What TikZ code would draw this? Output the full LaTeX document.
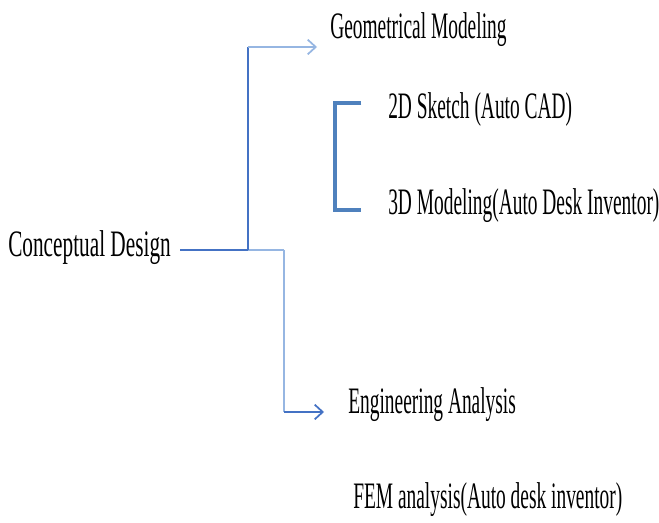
\documentclass[tikz,border=0pt]{standalone}
\usepackage{fontspec}
\setmainfont[FakeStretch=0.52]{Liberation Serif}
\newfontfamily\wideserif[FakeStretch=0.57]{Liberation Serif}
\usetikzlibrary{arrows.meta, positioning}
\definecolor{linkdark}{RGB}{68,114,196}
\definecolor{linklight}{RGB}{150,182,226}
\definecolor{bracketblue}{RGB}{79,129,189}

\begin{document}
\begin{tikzpicture}[x=0.75pt, y=-0.75pt, font=\fontsize{28}{30}\selectfont,
    label/.style={anchor=base west, inner sep=0pt},
    link/.style={line width=1.5pt},
    tip/.style={-{Straight Barb[length=6pt, width=11pt, line width=1.3pt]}}]
\useasboundingbox (0,0) rectangle (659,523);
% texts
\node[label, font=\wideserif\fontsize{28}{30}\selectfont] (concept) at (8,257) {Conceptual Design};
\node[label] (geom) at (330,39) {Geometrical Modeling};
\node[label] (sketch) at (388,119) {2D Sketch (Auto CAD)};
\node[label] (model) at (388,215) {3D Modeling(Auto Desk Inventor)};
\node[label] (engin) at (348,413) {Engineering Analysis};
\node[label] (fem) at (353,508) {FEM analysis(Auto desk inventor)};
% junctions
\coordinate (split) at (248,250);
\coordinate (drop) at (284,250);
\coordinate (geomtip) at (317,47);
\coordinate (engintip) at (324,412);
% connectors
\draw[link, linkdark] (concept.east |- split) ++(9,0) -- (split);
\draw[link, linklight] (split) -- (drop);
\draw[link, linkdark] (split) -- (split |- geomtip);
\draw[link, linklight, tip] (split |- geomtip) -- (geomtip);
\draw[link, linklight] (drop) -- (drop |- engintip);
\draw[link, linkdark, tip] (drop |- engintip) -- (engintip);
% bracket
\draw[bracketblue, line width=2.4pt] ([xshift=-20]sketch.west |- 0,103) -| (335,210) -- ([xshift=-20]model.west |- 0,210);
\end{tikzpicture}
\end{document}
